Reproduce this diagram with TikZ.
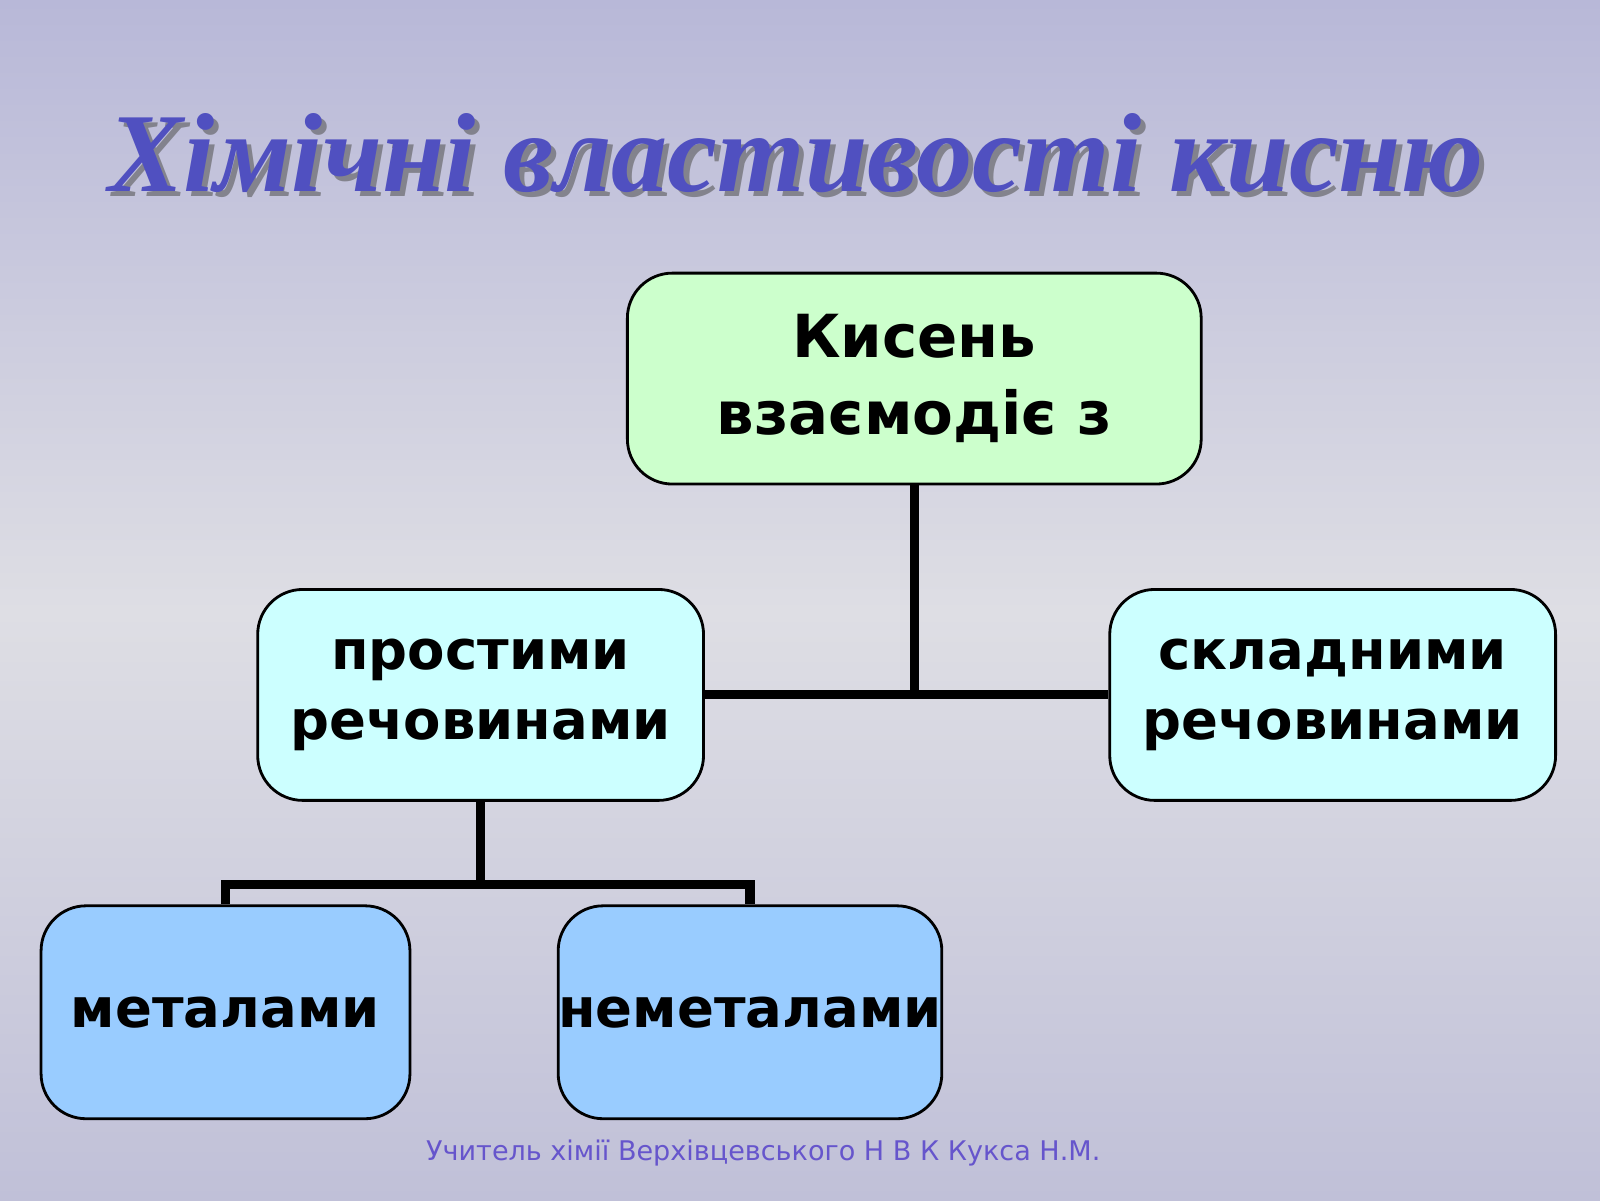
\documentclass[tikz,border=0pt]{standalone}
\usepackage{fontspec}
\setmainfont{DejaVu Sans}
\newfontfamily\titlefont{Liberation Serif}
\usetikzlibrary{positioning, calc}
\definecolor{topgreen}{HTML}{CCFFCC}
\definecolor{midcyan}{HTML}{CCFFFF}
\definecolor{lowblue}{HTML}{99CCFF}
\definecolor{titleblue}{HTML}{5050C0}
\definecolor{footblue}{HTML}{6655CC}
\tikzset{
    every picture/.style = {
        x = 0.010204cm,
        y = -0.010204cm
    },
    box/.style = {
        draw = black,
        line width = 0.8pt,
        rounded corners = 0.45cm,
        align = center,
        inner sep = 0pt,
        font = \fontsize{15.5}{20}\selectfont\bfseries,
        minimum height = 2.11cm
    },
    link/.style = {
        line width = 2.6pt
    }
}
\begin{document}
\begin{tikzpicture}
    \useasboundingbox (0, 0) rectangle (1568, 1176);
    \shade[top color = {rgb,255:red,184;green,184;blue,216}, bottom color = {rgb,255:red,222;green,222;blue,228}]
        (0, 0) rectangle (1568, 600);
    \shade[top color = {rgb,255:red,222;green,222;blue,228}, bottom color = {rgb,255:red,192;green,192;blue,216}]
        (0, 600) rectangle (1568, 1176);

    \node[font = \titlefont\fontsize{32}{36}\selectfont\bfseries\itshape, text = gray!70!black, opacity = 0.6] at (785, 155) {Хімічні властивості кисню};
    \node[font = \titlefont\fontsize{32}{36}\selectfont\bfseries\itshape, text = titleblue] (title) at (780, 150) {Хімічні властивості кисню};

    \node[box, fill = topgreen, minimum width = 5.74cm, font = \fontsize{16.9}{22}\selectfont\bfseries] (oxygen) at (896, 371) {Кисень\\взаємодіє з};
    \node[box, fill = midcyan, minimum width = 4.46cm] (simple) at (471, 681) {простими\\речовинами};
    \node[box, fill = midcyan, minimum width = 4.46cm] (complex) at (1306, 681) {складними\\речовинами};
    \node[box, fill = lowblue, minimum width = 3.69cm, minimum height = 2.13cm] (metals) at (221, 992) {металами};
    \node[box, fill = lowblue, minimum width = 3.83cm, minimum height = 2.13cm] (nonmetals) at (735, 992) {неметалами};

    \draw[link] (simple.east) -- (complex.west);
    \draw[link] (oxygen.south) -- (oxygen.south |- simple.east);
    \draw[link] (simple.south) -- ++(0, 81) coordinate (fork);
    \draw[link] (metals.north) |- (fork) -| (nonmetals.north);

    \node[font = \fontsize{7.7}{10}\selectfont, text = footblue] (footer) at (748, 1130) {Учитель хімії Верхівцевського Н В К Кукса Н.М.};
\end{tikzpicture}
\end{document}
